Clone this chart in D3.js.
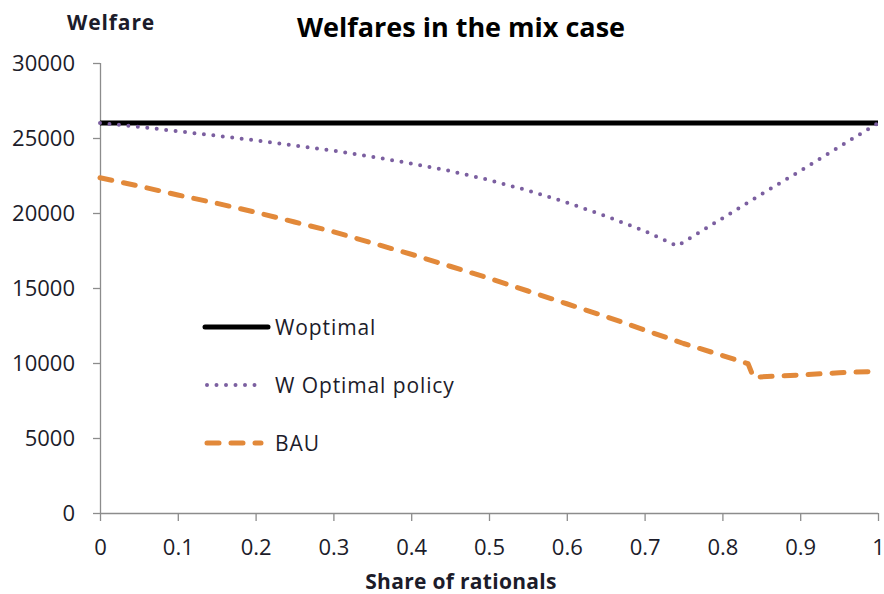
<!DOCTYPE html>
<html>
<head>
<meta charset="utf-8">
<script src="https://cdn.jsdelivr.net/npm/d3@7"></script>
<style>
  body { margin: 0; background: #fff; }
  svg { font-family: "Open Sans", Lato, sans-serif; }
</style>
</head>
<body>
<svg width="884" height="594"></svg>
<script>
// data
const shares = [0, 0.05, 0.1, 0.15, 0.2, 0.25, 0.3, 0.35, 0.4, 0.45, 0.5, 0.55, 0.6, 0.65, 0.7, 0.742, 0.8, 0.85, 0.9, 0.95, 1];
const wOptimal = [26000, 26000, 26000, 26000, 26000, 26000, 26000, 26000, 26000, 26000, 26000, 26000, 26000, 26000, 26000, 26000, 26000, 26000, 26000, 26000, 26000];
const wPolicy = [26000, 25750, 25450, 25150, 24850, 24500, 24150, 23750, 23300, 22800, 22200, 21500, 20700, 19800, 18800, 17800, 19650, 21250, 22800, 24400, 26000];
const bauShares = [0, 0.05, 0.1, 0.15, 0.2, 0.25, 0.3, 0.35, 0.4, 0.45, 0.5, 0.55, 0.6, 0.65, 0.7, 0.75, 0.8, 0.833, 0.84, 0.9, 0.95, 1];
const bau = [22350, 21800, 21200, 20650, 20050, 19400, 18750, 18000, 17250, 16450, 15650, 14800, 13950, 13100, 12200, 11300, 10500, 9950, 9050, 9200, 9350, 9450];
const xTicks = [0, 0.1, 0.2, 0.3, 0.4, 0.5, 0.6, 0.7, 0.8, 0.9, 1];
const yTicks = [0, 5000, 10000, 15000, 20000, 25000, 30000];
const seriesNames = ["Woptimal", "W Optimal policy", "BAU"];

const svg = d3.select("svg");
const plotLeft = 100, plotRight = 878, plotTop = 63, plotBottom = 513;
const textColor = "#1c1c2a";

const x = d3.scaleLinear().domain([0, 1]).range([plotLeft, plotRight]);
const y = d3.scaleLinear().domain([0, 30000]).range([plotBottom, plotTop]);

const styles = [
  { color: "#000000", width: 5, dash: null, cap: "butt" },
  { color: "#7b5fa0", width: 4, dash: "0,9.5", cap: "round" },
  { color: "#e2893a", width: 5, dash: "12,12", cap: "round" }
];

// axes
const yAxis = svg.append("g")
  .attr("transform", `translate(${plotLeft},0)`)
  .call(d3.axisLeft(y).tickValues(yTicks).tickSize(7).tickPadding(18).tickFormat(d3.format("d")));
const xAxis = svg.append("g")
  .attr("transform", `translate(0,${plotBottom})`)
  .call(d3.axisBottom(x).tickValues(xTicks).tickSize(8).tickFormat(d => d));
[yAxis, xAxis].forEach(a => {
  a.selectAll("path, line").attr("stroke", "#8c8c8c").attr("stroke-width", 1.3);
  a.selectAll("text").attr("font-size", 22).attr("fill", textColor).attr("font-family", "'Open Sans', sans-serif");
});
xAxis.selectAll("text").attr("y", 42).attr("dy", 0);
xAxis.select(".domain").attr("d", `M${plotLeft},0.5H${plotRight}`);
yAxis.select(".domain").attr("d", `M0.5,${plotTop}V${plotBottom}`);

// lines
const line = d3.line().x(d => x(d[0])).y(d => y(d[1]));
const seriesData = [
  shares.map((s, i) => [s, wOptimal[i]]),
  shares.map((s, i) => [s, wPolicy[i]]),
  bauShares.map((s, i) => [s, bau[i]])
];
[2, 0, 1].forEach(k => {
  svg.append("path")
    .datum(seriesData[k])
    .attr("d", line)
    .attr("fill", "none")
    .attr("stroke", styles[k].color)
    .attr("stroke-width", styles[k].width)
    .attr("stroke-dasharray", styles[k].dash)
    .attr("stroke-linecap", styles[k].cap)
    .attr("stroke-linejoin", "round");
});

// legend
const legend = svg.append("g").attr("transform", "translate(205,327)");
seriesNames.forEach((name, i) => {
  const g = legend.append("g").attr("transform", `translate(0,${i * 58})`);
  g.append("line")
    .attr("x1", i === 0 ? 0 : 2).attr("x2", i === 0 ? 63 : 56)
    .attr("stroke", styles[i].color)
    .attr("stroke-width", styles[i].width)
    .attr("stroke-dasharray", styles[i].dash)
    .attr("stroke-linecap", i === 0 ? "round" : styles[i].cap);
  g.append("text")
    .attr("x", 70).attr("dy", "0.36em")
    .attr("font-size", 21).attr("letter-spacing", 0.9).attr("fill", textColor)
    .text(name);
});

// titles
svg.append("text")
  .attr("x", 461).attr("y", 37)
  .attr("text-anchor", "middle")
  .attr("font-size", 27).attr("font-weight", "bold").attr("fill", "#000")
  .text("Welfares in the mix case");
svg.append("text")
  .attr("x", 67).attr("y", 30)
  .attr("font-size", 21).attr("letter-spacing", 0.9).attr("font-weight", "bold").attr("fill", textColor)
  .text("Welfare");
svg.append("text")
  .attr("x", 461).attr("y", 589)
  .attr("text-anchor", "middle")
  .attr("font-size", 21).attr("letter-spacing", 0.3).attr("font-weight", "bold").attr("fill", textColor)
  .text("Share of rationals");
</script>
</body>
</html>
